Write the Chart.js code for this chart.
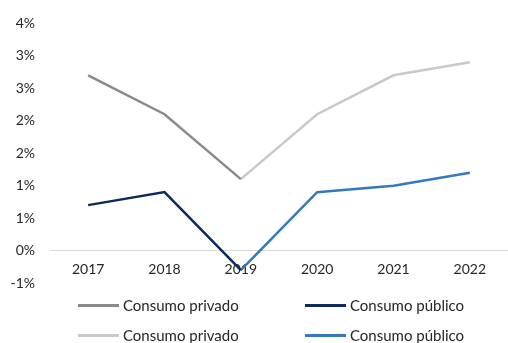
<!DOCTYPE html>
<html>
<head>
<meta charset="utf-8">
<script src="https://cdn.jsdelivr.net/npm/chart.js@4/dist/chart.umd.min.js"></script>
<style>
  html, body { margin: 0; padding: 0; background: #ffffff; }
  #wrap { position: relative; width: 508px; height: 343px; }
  #chart { position: absolute; left: 0; top: 0; }
  #legend {
    position: absolute; left: 78px; top: 295px;
    display: grid; grid-template-columns: 227px 200px; row-gap: 10px;
    font-family: Lato, "Liberation Sans", sans-serif; font-size: 15px; color: #262626;
  }
  .item { display: flex; align-items: center; height: 20px; white-space: nowrap; }
  .swatch { width: 41px; height: 3px; margin-right: 4px; }
</style>
</head>
<body>
<div id="wrap">
  <canvas id="chart" width="508" height="343"></canvas>
  <div id="legend"></div>
</div>
<script>
// Annual growth of private and public consumption (%)
const years = ['2017', '2018', '2019', '2020', '2021', '2022'];
const privadoAntes   = [2.7, 2.1, 1.1, null, null, null];
const privadoDespues = [null, null, 1.1, 2.1, 2.7, 2.9];
const publicoAntes   = [0.7, 0.9, -0.3, null, null, null];
const publicoDespues = [null, null, -0.3, 0.9, 1.0, 1.2];
const yTicks = { min: -0.5, max: 3.5, step: 0.5 };

const series = [
  { label: 'Consumo privado', data: privadoAntes,   color: '#8a8a8a' },
  { label: 'Consumo público', data: publicoAntes,   color: '#0c2a5e' },
  { label: 'Consumo privado', data: privadoDespues, color: '#c9c9c9' },
  { label: 'Consumo público', data: publicoDespues, color: '#3478bd' }
];

const chart = new Chart(document.getElementById('chart'), {
  type: 'line',
  data: {
    labels: years,
    datasets: series.map(s => ({
      label: s.label,
      data: s.data,
      borderColor: s.color,
      backgroundColor: s.color,
      borderWidth: 2.5,
      pointRadius: 0,
      tension: 0,
      spanGaps: false
    }))
  },
  options: {
    responsive: false,
    animation: false,
    layout: { padding: { top: 10, bottom: 60, right: 0, left: 0 } },
    plugins: { legend: { display: false }, tooltip: { enabled: false } },
    scales: {
      x: {
        position: { y: 0 },
        offset: true,
        grid: { display: false, drawTicks: false, offset: true },
        border: { display: true, color: '#d9d9d9', width: 1 },
        ticks: {
          padding: 11,
          color: '#262626',
          font: { family: 'Lato, "Liberation Sans", sans-serif', size: 14 }
        }
      },
      y: {
        min: yTicks.min,
        max: yTicks.max,
        afterFit: scale => { scale.width = 50; },
        grid: { display: false, drawTicks: false },
        border: { display: false },
        ticks: {
          stepSize: yTicks.step,
          padding: 15,
          color: '#262626',
          font: { family: 'Lato, "Liberation Sans", sans-serif', size: 14 },
          callback: v => Number(v).toFixed(0) + '%'
        }
      }
    }
  }
});

// Two-column legend built from the chart's own datasets
const legend = document.getElementById('legend');
chart.data.datasets.forEach(ds => {
  const item = document.createElement('div');
  item.className = 'item';
  const sw = document.createElement('span');
  sw.className = 'swatch';
  sw.style.background = ds.borderColor;
  const txt = document.createElement('span');
  txt.textContent = ds.label;
  item.appendChild(sw);
  item.appendChild(txt);
  legend.appendChild(item);
});
</script>
</body>
</html>
